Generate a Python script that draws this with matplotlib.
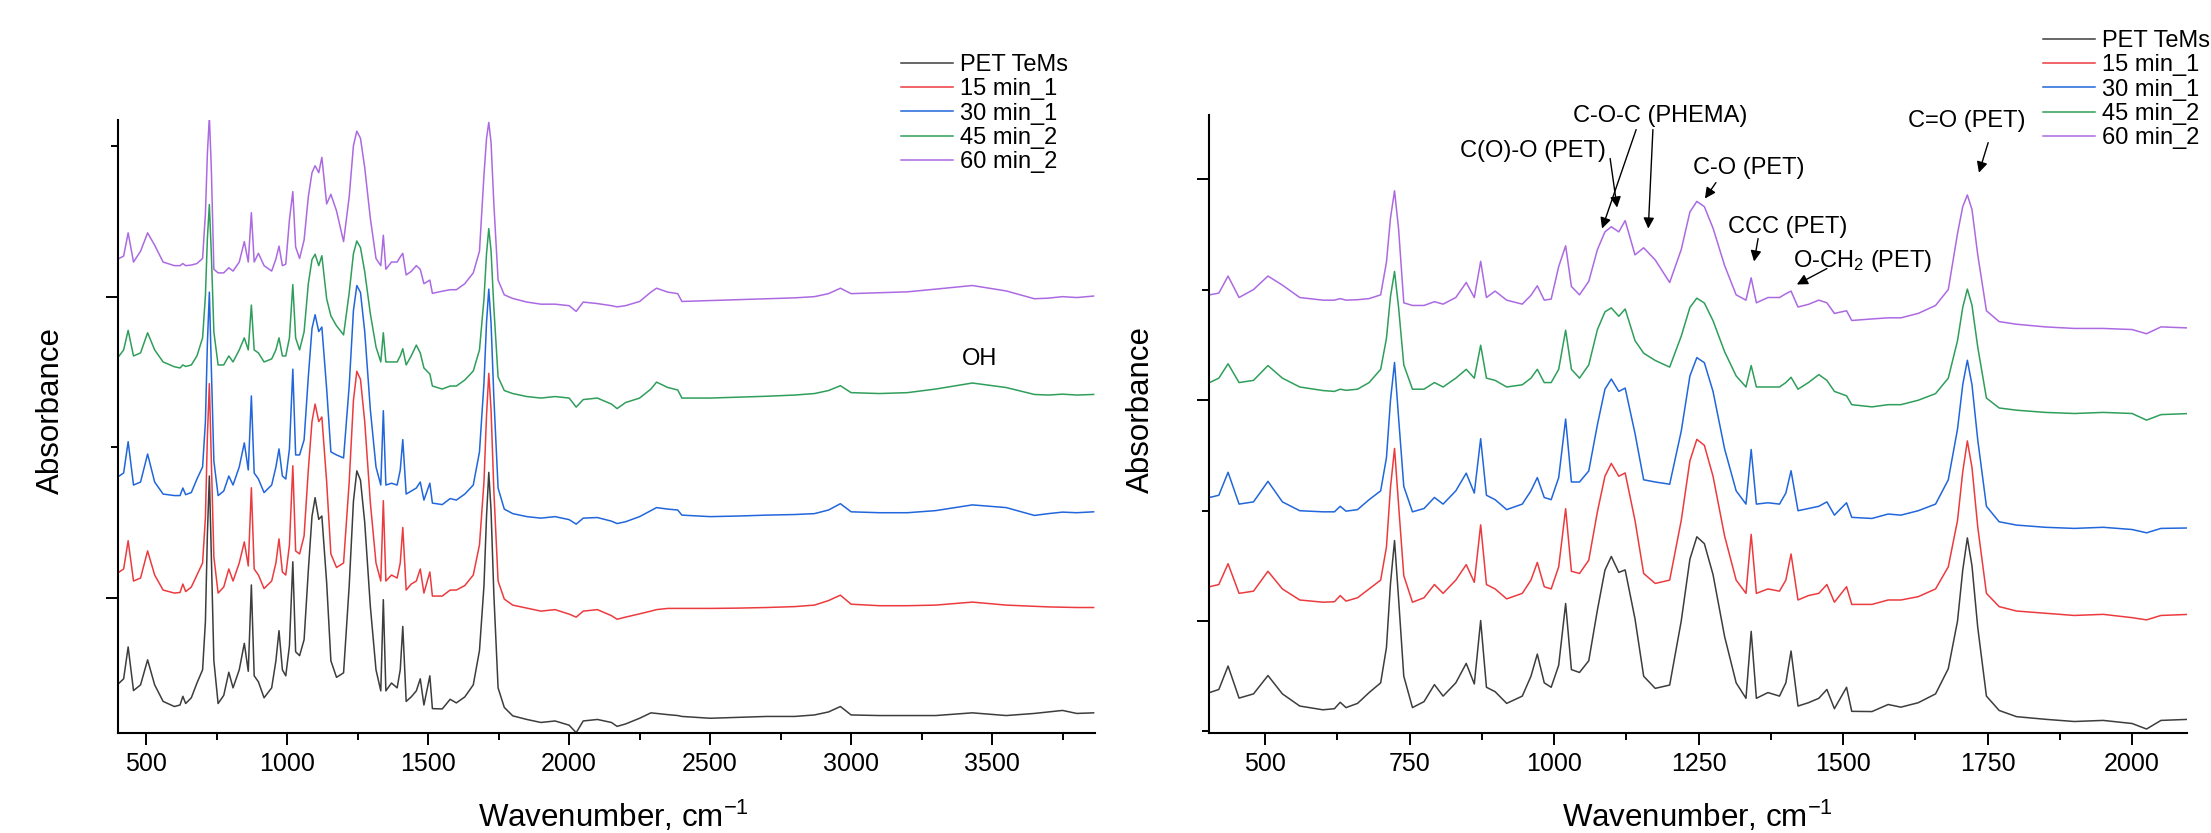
import numpy as np
import matplotlib
matplotlib.use("Agg")
import matplotlib.pyplot as plt
from matplotlib.ticker import MultipleLocator

plt.rcParams["font.family"] = ["Liberation Sans", "DejaVu Sans"]
plt.rcParams["mathtext.fontset"] = "custom"
plt.rcParams["mathtext.rm"] = "Liberation Sans"
plt.rcParams["mathtext.it"] = "Liberation Sans:italic"

# wavenumber grid (cm-1)
wn_low = [404, 420, 436, 455, 480, 505, 530, 560, 600, 620,
          630, 640, 660, 680, 700, 710, 717, 724, 731, 740,
          755, 775, 793, 808, 830, 848, 862, 873, 883, 898,
          918, 945, 960, 971, 983, 995, 1008, 1020, 1030, 1044,
          1060, 1075, 1088, 1099, 1112, 1123, 1140, 1155, 1175, 1200,
          1220, 1235, 1247, 1260, 1275, 1295, 1315, 1332, 1341, 1350,
          1370, 1390, 1401, 1410, 1422, 1440, 1458, 1472, 1485, 1506,
          1515, 1550, 1578, 1600, 1630, 1660, 1682, 1698, 1707, 1715,
          1723, 1733, 1748, 1770, 1800, 1850, 1900, 1950, 2000, 2025,
          2050, 2100]
wn_high = [2150, 2170, 2200, 2250, 2290, 2310, 2350, 2385, 2400, 2500,
           2600, 2700, 2800, 2870, 2920, 2962, 3000, 3100, 3200, 3300,
           3430, 3550, 3650, 3700, 3750, 3800, 3860]

pet_low = [0.126, 0.14, 0.246, 0.101, 0.12, 0.203, 0.12, 0.065, 0.048, 0.053,
           0.082, 0.058, 0.077, 0.126, 0.17, 0.33, 0.62, 0.814, 0.55, 0.2,
           0.058, 0.085, 0.162, 0.11, 0.17, 0.258, 0.165, 0.452, 0.15, 0.13,
           0.077, 0.11, 0.2, 0.30, 0.17, 0.15, 0.25, 0.529, 0.23, 0.217,
           0.27, 0.5, 0.68, 0.742, 0.67, 0.681, 0.46, 0.2, 0.145, 0.16,
           0.45, 0.73, 0.831, 0.8, 0.66, 0.38, 0.17, 0.1, 0.403, 0.1,
           0.126, 0.11, 0.17, 0.314, 0.065, 0.08, 0.1, 0.14, 0.053, 0.15,
           0.041, 0.04, 0.072, 0.06, 0.08, 0.12, 0.234, 0.45, 0.68, 0.826,
           0.7, 0.42, 0.11, 0.045, 0.017, 0.005, -0.005, 0.0, -0.014, -0.039,
           0.0, 0.005]
pet_high = [-0.005, -0.018, -0.01, 0.009, 0.027, 0.025, 0.021, 0.018, 0.015, 0.009,
            0.012, 0.015, 0.015, 0.02, 0.03, 0.048, 0.02, 0.018, 0.018, 0.018,
            0.027, 0.018, 0.025, 0.03, 0.035, 0.025, 0.027]

m15_low = [0.13, 0.14, 0.234, 0.1, 0.11, 0.2, 0.12, 0.07, 0.06, 0.062,
           0.09, 0.065, 0.08, 0.12, 0.16, 0.31, 0.58, 0.756, 0.5, 0.18,
           0.06, 0.08, 0.14, 0.1, 0.16, 0.23, 0.15, 0.41, 0.14, 0.12,
           0.075, 0.1, 0.16, 0.24, 0.13, 0.12, 0.22, 0.483, 0.2, 0.19,
           0.25, 0.47, 0.63, 0.688, 0.63, 0.645, 0.43, 0.19, 0.145, 0.16,
           0.43, 0.7, 0.797, 0.77, 0.63, 0.36, 0.16, 0.1, 0.367, 0.1,
           0.12, 0.11, 0.16, 0.278, 0.07, 0.09, 0.1, 0.14, 0.06, 0.13,
           0.05, 0.05, 0.07, 0.07, 0.085, 0.12, 0.22, 0.43, 0.65, 0.79,
           0.67, 0.4, 0.1, 0.04, 0.02, 0.01, 0.0, 0.005, -0.01, -0.02,
           0.0, 0.005]
m15_high = [-0.015, -0.027, -0.02, -0.009, 0.0, 0.005, 0.009, 0.009, 0.009, 0.009,
            0.01, 0.012, 0.015, 0.02, 0.035, 0.053, 0.023, 0.018, 0.018, 0.02,
            0.03, 0.02, 0.016, 0.014, 0.013, 0.012, 0.012]

m30_low = [0.14, 0.15, 0.254, 0.11, 0.12, 0.213, 0.12, 0.08, 0.075, 0.075,
           0.1, 0.078, 0.085, 0.13, 0.17, 0.32, 0.58, 0.751, 0.5, 0.19,
           0.075, 0.09, 0.14, 0.11, 0.17, 0.25, 0.16, 0.406, 0.15, 0.13,
           0.085, 0.11, 0.17, 0.23, 0.14, 0.13, 0.23, 0.495, 0.21, 0.21,
           0.26, 0.47, 0.63, 0.676, 0.62, 0.635, 0.43, 0.22, 0.21, 0.2,
           0.44, 0.69, 0.773, 0.75, 0.62, 0.36, 0.17, 0.11, 0.357, 0.11,
           0.116, 0.11, 0.16, 0.261, 0.08, 0.09, 0.1, 0.12, 0.06, 0.116,
           0.05, 0.045, 0.065, 0.06, 0.08, 0.11, 0.22, 0.45, 0.65, 0.761,
           0.65, 0.4, 0.1, 0.03, 0.015, 0.005, 0.0, 0.005, -0.005, -0.02,
           0.0, 0.002]
m30_high = [-0.01, -0.018, -0.012, 0.005, 0.025, 0.035, 0.03, 0.027, 0.01, 0.005,
            0.007, 0.01, 0.012, 0.015, 0.027, 0.048, 0.021, 0.018, 0.018, 0.025,
            0.044, 0.035, 0.009, 0.015, 0.02, 0.018, 0.021]

m45_low = [0.14, 0.16, 0.225, 0.14, 0.15, 0.217, 0.16, 0.12, 0.104, 0.1,
           0.11, 0.105, 0.11, 0.14, 0.2, 0.34, 0.53, 0.643, 0.48, 0.22,
           0.11, 0.11, 0.14, 0.12, 0.16, 0.2, 0.16, 0.309, 0.16, 0.15,
           0.12, 0.13, 0.16, 0.2, 0.14, 0.14, 0.2, 0.377, 0.2, 0.16,
           0.22, 0.38, 0.46, 0.478, 0.44, 0.473, 0.33, 0.273, 0.24, 0.21,
           0.35, 0.48, 0.522, 0.5, 0.42, 0.28, 0.17, 0.12, 0.217, 0.12,
           0.12, 0.12, 0.14, 0.164, 0.11, 0.14, 0.176, 0.15, 0.1, 0.08,
           0.04, 0.03, 0.04, 0.04, 0.06, 0.09, 0.16, 0.33, 0.48, 0.563,
           0.49, 0.3, 0.07, 0.025, 0.015, 0.005, 0.0, 0.005, 0.0, -0.03,
           -0.005, 0.0]
m45_high = [-0.02, -0.035, -0.015, 0.0, 0.03, 0.053, 0.035, 0.027, 0.0, 0.0,
            0.003, 0.006, 0.01, 0.015, 0.025, 0.041, 0.018, 0.015, 0.018, 0.03,
            0.05, 0.035, 0.012, 0.01, 0.013, 0.01, 0.012]

m60_low = [0.152, 0.16, 0.237, 0.14, 0.176, 0.237, 0.196, 0.14, 0.128, 0.128,
           0.135, 0.128, 0.13, 0.135, 0.152, 0.3, 0.5, 0.623, 0.45, 0.116,
           0.104, 0.104, 0.121, 0.11, 0.14, 0.208, 0.14, 0.304, 0.14, 0.169,
           0.128, 0.11, 0.15, 0.193, 0.128, 0.133, 0.28, 0.374, 0.19, 0.152,
           0.213, 0.357, 0.437, 0.46, 0.437, 0.488, 0.333, 0.365, 0.31, 0.208,
           0.357, 0.527, 0.575, 0.551, 0.454, 0.285, 0.152, 0.128, 0.229, 0.116,
           0.14, 0.14, 0.157, 0.169, 0.097, 0.109, 0.128, 0.116, 0.068, 0.08,
           0.036, 0.043, 0.048, 0.048, 0.068, 0.104, 0.176, 0.43, 0.551, 0.604,
           0.538, 0.333, 0.08, 0.031, 0.019, 0.007, 0.0, 0.0, -0.005, -0.024,
           0.007, 0.002]
m60_high = [-0.005, -0.009, -0.005, 0.009, 0.04, 0.053, 0.04, 0.035, 0.009, 0.012,
            0.015, 0.018, 0.021, 0.025, 0.035, 0.053, 0.035, 0.038, 0.041, 0.05,
            0.062, 0.044, 0.018, 0.02, 0.025, 0.022, 0.027]

labels = ["PET TeMs", "15 min_1", "30 min_1", "45 min_2", "60 min_2"]
colors = ["#3d3d3d", "#ec3b3f", "#2166db", "#2f9e5b", "#ac6ae2"]

wn = np.array(wn_low + wn_high)
spectra = [np.array(a + b) for a, b in [(pet_low, pet_high), (m15_low, m15_high),
                                        (m30_low, m30_high), (m45_low, m45_high),
                                        (m60_low, m60_high)]]

# vertical stacking of the traces in each panel
offs_left = [0.591, 0.956, 1.265, 1.664, 1.976]
offs_right = [0.550, 1.025, 1.419, 1.939, 2.324]

W, H = 2211, 833
fig = plt.figure(figsize=(W / 100, H / 100), dpi=100)
ax1 = fig.add_axes([118 / W, 1 - 733 / H, 977 / W, 613 / H])
ax2 = fig.add_axes([1209 / W, 1 - 733 / H, 978 / W, 618 / H])

for ax, offs in [(ax1, offs_left), (ax2, offs_right)]:
    for s, off, c, lab in zip(spectra, offs, colors, labels):
        ax.plot(wn, s + off, color=c, lw=1.1, label=lab)
    for side in ["top", "right"]:
        ax.spines[side].set_visible(False)
    for side in ["left", "bottom"]:
        ax.spines[side].set_linewidth(1.5)
    ax.tick_params(which="major", length=8.5, width=1.4, labelsize=18, pad=5)
    ax.tick_params(which="minor", length=5, width=1.4)
    ax.tick_params(axis="y", labelleft=False)

ax1.set_xlim(400, 3865)
ax1.set_ylim(0.551, 2.588)
ax1.xaxis.set_major_locator(MultipleLocator(500))
ax1.xaxis.set_minor_locator(MultipleLocator(250))
ax1.yaxis.set_major_locator(MultipleLocator(1))
ax1.yaxis.set_minor_locator(MultipleLocator(0.5))

ax2.set_xlim(403, 2095)
ax2.set_ylim(0.493, 3.29)
ax2.xaxis.set_major_locator(MultipleLocator(250))
ax2.xaxis.set_minor_locator(MultipleLocator(125))
ax2.yaxis.set_major_locator(MultipleLocator(1))
ax2.yaxis.set_minor_locator(MultipleLocator(0.5))

xlab = "Wavenumber, cm$^{-1}$"
fig.text(613 / W, 1 - 827 / H, xlab, ha="center", va="baseline", fontsize=22.5)
fig.text(1697 / W, 1 - 827 / H, xlab, ha="center", va="baseline", fontsize=22.5)
fig.text(51 / W, 1 - 411 / H, "Absorbance", rotation=90, ha="center", va="center", fontsize=22.5)
fig.text(1141 / W, 1 - 410 / H, "Absorbance", rotation=90, ha="center", va="center", fontsize=22.5)

leg_kw = dict(frameon=False, fontsize=17, handlelength=2.2, handletextpad=0.3,
              labelspacing=0.1, borderpad=0, borderaxespad=0, loc="upper left")
ax1.legend(bbox_to_anchor=(901 / W, 1 - 54 / H), bbox_transform=fig.transFigure, **leg_kw)
ax2.legend(bbox_to_anchor=(2043 / W, 1 - 30 / H), bbox_transform=fig.transFigure, **leg_kw)

ax1.text(3457, 1.794, "OH", ha="center", va="center", fontsize=17)

# peak assignments: (label, text position, [(arrow tail, arrow tip), ...])
notes = [
    ("C(O)-O (PET)", (964, 3.129), [((1097, 3.093), (1109, 2.871))]),
    ("C-O-C (PHEMA)", (1183, 3.287), [((1142, 3.224), (1083, 2.776)),
                                      ((1171, 3.224), (1163, 2.776))]),
    ("C-O (PET)", (1336, 3.048), [((1280, 2.984), (1261, 2.912))]),
    ("CCC (PET)", (1405, 2.785), [((1353, 2.731), (1346, 2.627))]),
    ("O-CH$_2$ (PET)", (1534, 2.631), [((1472, 2.595), (1420, 2.523))]),
    ("C=O (PET)", (1714, 3.265), [((1751, 3.165), (1735, 3.029))]),
]
for txt, pos, arrows in notes:
    ax2.text(pos[0], pos[1], txt, ha="center", va="center", fontsize=17, clip_on=False)
    for tail, tip in arrows:
        ax2.annotate("", xy=tip, xytext=tail, annotation_clip=False,
                     arrowprops=dict(arrowstyle="-|>", color="black", lw=1.0,
                                     mutation_scale=16, shrinkA=0, shrinkB=0))

fig.savefig("out.png", dpi=100)
